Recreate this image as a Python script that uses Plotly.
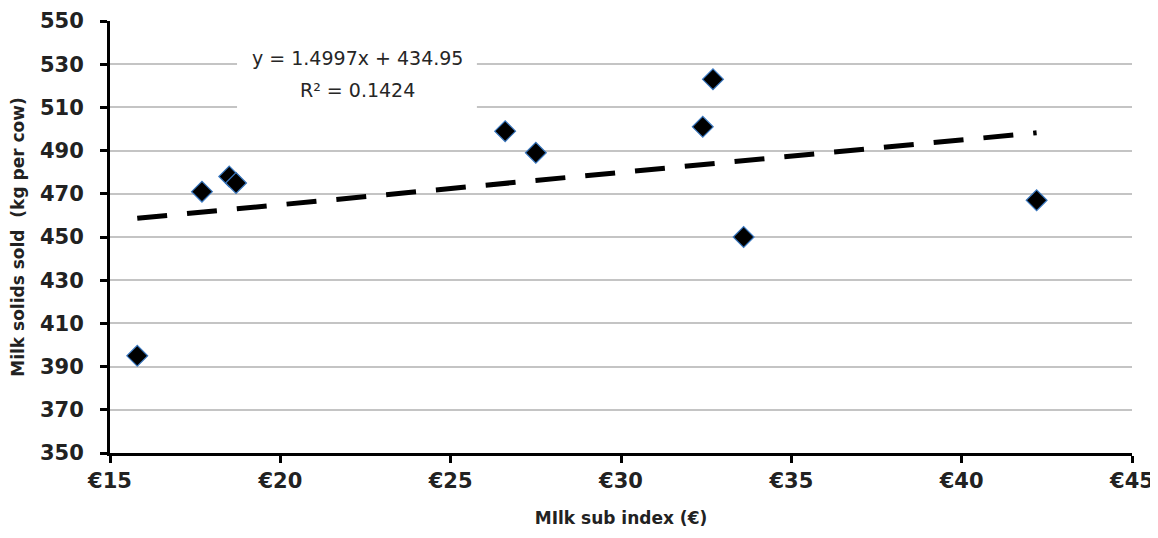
import numpy as np
import plotly.graph_objects as go

milk_sub_index = [15.8, 17.7, 18.5, 18.7, 26.6, 27.5, 32.4, 32.7, 33.6, 42.2]
milk_solids = [395, 471, 478, 475, 499, 489, 501, 523, 450, 467]
slope = 1.4997
intercept = 434.95
r_squared = 0.1424
x_ticks = [15, 20, 25, 30, 35, 40, 45]
x_tick_labels = ["€15", "€20", "€25", "€30", "€35", "€40", "€45"]
y_ticks = list(range(350, 551, 20))

trend_x = [min(milk_sub_index), max(milk_sub_index)]
trend_y = [slope * v + intercept for v in trend_x]

bold_font = "'DejaVu Sans', sans-serif"
label_font = "'DejaVu Sans', sans-serif"

fig = go.Figure()
fig.add_trace(go.Scatter(
    x=trend_x, y=trend_y, mode="lines",
    line=dict(color="black", width=5, dash="30px,20px"),
    hoverinfo="skip", showlegend=False))
fig.add_trace(go.Scatter(
    x=milk_sub_index, y=milk_solids, mode="markers",
    marker=dict(symbol="diamond", size=16, color="black",
                line=dict(color="#3a78c0", width=1.2)),
    showlegend=False))

# white label box behind the regression text
fig.add_shape(type="rect", xref="paper", yref="paper",
              x0=0.1243, x1=0.359, y0=0.787, y1=0.95,
              fillcolor="white", line=dict(width=0), layer="above")
fig.add_annotation(
    x=0.2417, y=0.914, xref="paper", yref="paper",
    xanchor="center", yanchor="middle",
    text=f"y = {slope}x + {intercept}", showarrow=False,
    font=dict(family=label_font, size=19, color="#262626"))
fig.add_annotation(
    x=0.2417, y=0.840, xref="paper", yref="paper",
    xanchor="center", yanchor="middle",
    text=f"R² = {r_squared}", showarrow=False,
    font=dict(family=label_font, size=19, color="#262626"))

fig.update_layout(
    width=1158, height=538,
    margin=dict(l=102, r=34, t=13, b=93),
    paper_bgcolor="white", plot_bgcolor="white",
    font=dict(family=bold_font, color="#222"),
    xaxis=dict(
        range=[15, 45], tickvals=x_ticks, ticktext=x_tick_labels,
        showgrid=False, zeroline=False, automargin=False,
        showline=True, linecolor="black", linewidth=3,
        ticks="outside", ticklen=7, tickwidth=3, tickcolor="black",
        ticklabelstandoff=0, ticklabeloverflow="allow",
        tickfont=dict(size=21, family=bold_font, weight="bold"),
        title=dict(text="MIlk sub index (€)", standoff=20,
                   font=dict(size=17, family=bold_font, weight="bold"))),
    yaxis=dict(
        range=[350, 550], tickvals=y_ticks,
        showgrid=True, gridcolor="#c4c4c4", gridwidth=2, zeroline=False,
        automargin=False,
        showline=True, linecolor="black", linewidth=3,
        ticks="outside", ticklen=7, tickwidth=3, tickcolor="black",
        ticklabelstandoff=12, ticklabeloverflow="allow",
        tickfont=dict(size=21, family=bold_font, weight="bold"),
        title=dict(text="Milk solids sold  (kg per cow)", standoff=12,
                   font=dict(size=17, family=bold_font, weight="bold"))),
)

fig.write_html("out.html")
